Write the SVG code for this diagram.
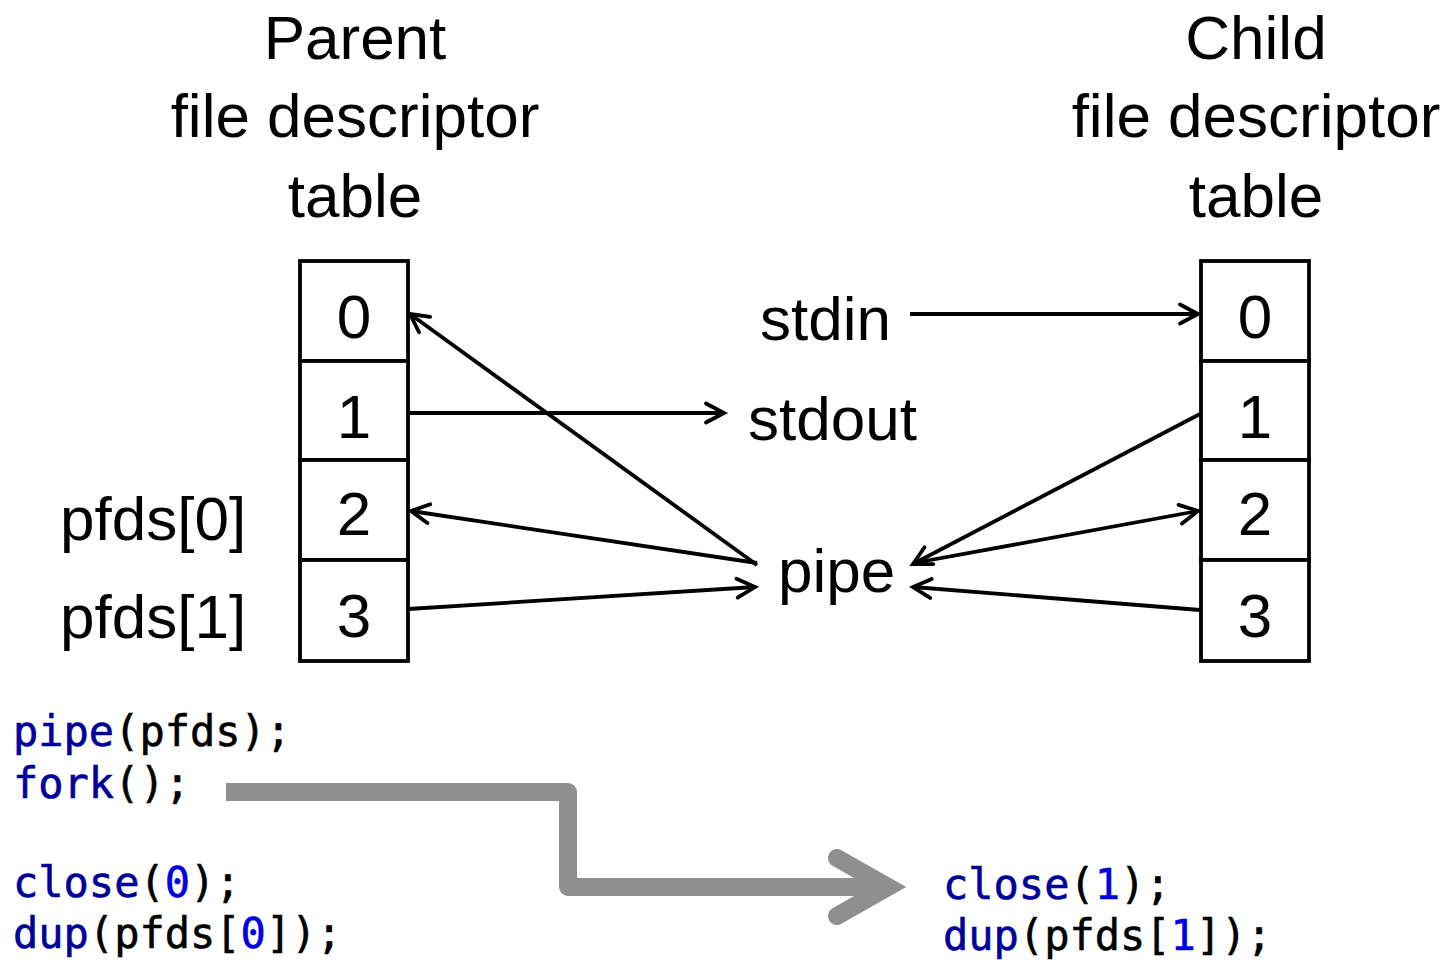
<svg xmlns="http://www.w3.org/2000/svg" width="1452" height="960" viewBox="0 0 1452 960">
<style>
.t{font-family:"Liberation Sans",Arial,sans-serif;font-size:62px;fill:#000}
.m{text-anchor:middle}
.c{font-family:"DejaVu Sans Mono","Liberation Mono",monospace;font-size:42px;fill:#000;stroke:#000;stroke-width:0.6}
.k{fill:#00009A;stroke:#00009A}
.n{fill:#0000E0;stroke:#0000E0}
.cell{fill:#fff;stroke:#000;stroke-width:3.8}
.ln{fill:none;stroke:#000;stroke-width:3.8;marker-end:url(#ah)}
</style>
<defs>
<marker id="ah" markerUnits="userSpaceOnUse" markerWidth="32" markerHeight="32" viewBox="-26 -16 32 32" refX="0" refY="0" orient="auto">
<path d="M-18,-9.5 L0,0 L-18,9.5" fill="none" stroke="#000" stroke-width="3.8" stroke-linecap="round" stroke-linejoin="miter"/>
</marker>
</defs>
<rect width="1452" height="960" fill="#fff"/>
<g id="parent-title">
<text class="t m" x="355" y="59">Parent</text>
<text class="t m" x="355" y="137">file descriptor</text>
<text class="t m" x="355" y="217">table</text>
</g>
<g id="child-title">
<text class="t m" x="1256" y="59">Child</text>
<text class="t m" x="1256" y="137">file descriptor</text>
<text class="t m" x="1256" y="217">table</text>
</g>
<g id="parent-table">
<rect class="cell" x="300" y="261" width="108" height="100"/>
<rect class="cell" x="300" y="361" width="108" height="99"/>
<rect class="cell" x="300" y="460" width="108" height="100"/>
<rect class="cell" x="300" y="560" width="108" height="101"/>
<text class="t m" x="354" y="338">0</text>
<text class="t m" x="354" y="438">1</text>
<text class="t m" x="354" y="535">2</text>
<text class="t m" x="354" y="637">3</text>
</g>
<g id="child-table">
<rect class="cell" x="1201" y="261" width="108" height="100"/>
<rect class="cell" x="1201" y="361" width="108" height="99"/>
<rect class="cell" x="1201" y="460" width="108" height="100"/>
<rect class="cell" x="1201" y="560" width="108" height="101"/>
<text class="t m" x="1255" y="338">0</text>
<text class="t m" x="1255" y="438">1</text>
<text class="t m" x="1255" y="535">2</text>
<text class="t m" x="1255" y="637">3</text>
</g>
<g id="stdin"><text class="t" x="760" y="340">stdin</text></g>
<g id="stdout"><text class="t" x="748" y="440">stdout</text></g>
<g id="pipe"><text class="t" x="778" y="592">pipe</text></g>
<g id="pfds0"><text class="t" x="60" y="540">pfds[0]</text></g>
<g id="pfds1"><text class="t" x="60" y="638">pfds[1]</text></g>
<g id="connectors">
<line class="ln" x1="408" y1="413" x2="724" y2="413"/>
<line class="ln" x1="757" y1="565" x2="410" y2="314"/>
<line class="ln" x1="757" y1="563" x2="411" y2="511"/>
<line class="ln" x1="408" y1="609" x2="755" y2="587"/>
<line class="ln" x1="910" y1="314" x2="1198" y2="314"/>
<line class="ln" x1="1200" y1="414" x2="913" y2="564"/>
<line class="ln" x1="914" y1="563" x2="1198" y2="511"/>
<line class="ln" x1="1200" y1="610" x2="913" y2="587"/>
</g>
<g id="fork-arrow" fill="none" stroke="#8F8F8F" stroke-width="18">
<path d="M226 792 H568 V887 H885" stroke-linejoin="round"/>
<path d="M837 858 L888 887 L837 916" stroke-linecap="round" stroke-linejoin="miter"/>
</g>
<g id="parent-code">
<text class="c" x="13" y="746"><tspan class="k">pipe</tspan>(pfds);</text>
<text class="c" x="13" y="798"><tspan class="k">fork</tspan>();</text>
<text class="c" x="13" y="897"><tspan class="k">close</tspan>(<tspan class="n">0</tspan>);</text>
<text class="c" x="13" y="948"><tspan class="k">dup</tspan>(pfds[<tspan class="n">0</tspan>]);</text>
</g>
<g id="child-code">
<text class="c" x="943" y="899"><tspan class="k">close</tspan>(<tspan class="n">1</tspan>);</text>
<text class="c" x="943" y="950"><tspan class="k">dup</tspan>(pfds[<tspan class="n">1</tspan>]);</text>
</g>
</svg>
